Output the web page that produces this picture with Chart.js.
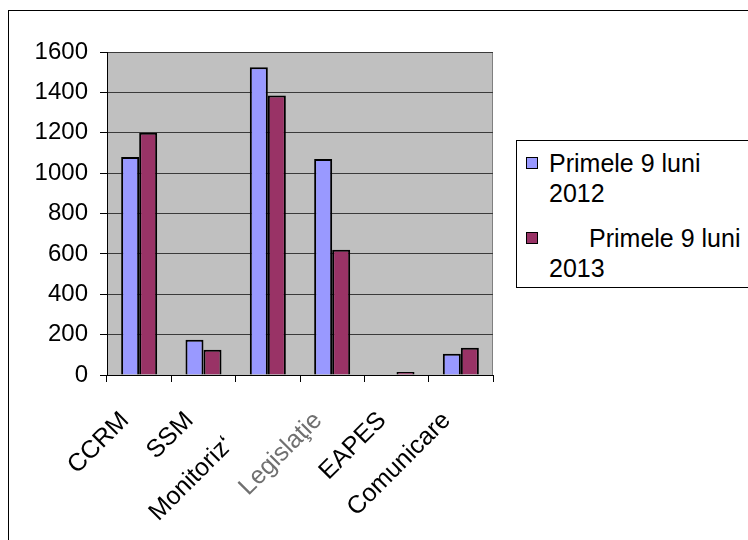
<!DOCTYPE html>
<html>
<head>
<meta charset="utf-8">
<script src="https://cdn.jsdelivr.net/npm/chart.js@4/dist/chart.umd.min.js"></script>
<style>
  html, body { margin:0; padding:0; background:#fff; overflow:hidden; }
  #wrap { position:relative; width:748px; height:540px; }
  #frame { position:absolute; left:8px; top:10px; width:800px; height:600px;
           border-top:1.5px solid #000; border-left:1.5px solid #000; }
  canvas { position:absolute; left:0; top:0; }
  #legend { position:absolute; left:516px; top:140px; width:260px; height:146px;
            border:1px solid #000; background:#fff; font-family:"Liberation Sans", Arial, sans-serif;
            font-size:25px; color:#000; }
  .item { position:absolute; left:32px; width:205px; line-height:30px; }
  .sw { position:absolute; left:9px; width:10px; height:10px; border:1px solid #000; }
</style>
</head>
<body>
<div id="wrap">
  <div id="frame"></div>
  <canvas id="c" width="748" height="540"></canvas>
  <div id="legend"></div>
</div>
<script>
const categories = ["CCRM", "SSM", "Monitoriz\u2018     ", "Legisla\u0163ie", "EAPES", "Comunicare"];
const series2012 = [1080, 175, 1525, 1070, 0, 105];
const series2013 = [1200, 125, 1385, 620, 15, 135];
const seriesLabels = ["Primele 9 luni 2012", "Primele 9 luni 2013"];
const seriesColors = ["#9999FF", "#993366"];
const yMin = 0, yMax = 1600, yStep = 200;

const plotBg = {
  id: 'plotBg',
  beforeDraw(chart) {
    const {ctx, chartArea: a} = chart;
    ctx.save();
    ctx.fillStyle = '#C0C0C0';
    ctx.fillRect(a.left, a.top, a.right - a.left, a.bottom - a.top);
    ctx.strokeStyle = '#808080';
    ctx.lineWidth = 1;
    ctx.beginPath();
    ctx.moveTo(a.left, a.top + 0.5);
    ctx.lineTo(a.right - 0.5, a.top + 0.5);
    ctx.lineTo(a.right - 0.5, a.bottom);
    ctx.stroke();
    ctx.restore();
  }
};

const fontFam = '"Liberation Sans", Arial, sans-serif';

const chart = new Chart(document.getElementById('c'), {
  type: 'bar',
  data: {
    labels: categories,
    datasets: [
      { label: seriesLabels[0], data: series2012, backgroundColor: seriesColors[0],
        borderColor: '#000', borderWidth: 2, barPercentage: 1, categoryPercentage: 0.56 },
      { label: seriesLabels[1], data: series2013, backgroundColor: seriesColors[1],
        borderColor: '#000', borderWidth: 2, barPercentage: 1, categoryPercentage: 0.56 }
    ]
  },
  options: {
    responsive: false,
    animation: false,
    layout: { padding: { left: 0, top: 52, right: 255, bottom: 0 } },
    plugins: { legend: { display: false }, tooltip: { enabled: false } },
    scales: {
      y: {
        min: yMin, max: yMax,
        ticks: { stepSize: yStep, color: '#000', font: { family: fontFam, size: 24 }, padding: 12,
                 callback: (v) => String(v) },
        grid: { color: '#3a3a3a', lineWidth: 1, tickLength: 7, tickColor: '#000' },
        border: { display: true, color: '#000', width: 1 },
        afterFit(s) { s.width = 107; }
      },
      x: {
        grid: { offset: true, drawOnChartArea: false, tickLength: 7, tickColor: '#000' },
        border: { display: true, color: '#000', width: 1 },
        ticks: {
          minRotation: 45, maxRotation: 45, autoSkip: false, font: { family: fontFam, size: 25 },
          color: (c) => c.index === 3 ? '#707070' : '#000',
          labelOffset: -14, padding: 24
        },
        afterFit(s) { s.height = 165; }
      }
    }
  },
  plugins: [plotBg]
});

// legend built from datasets
const leg = document.getElementById('legend');
const tops = [14, 89];
const indents = [0, 40];
chart.data.datasets.forEach((ds, i) => {
  const sw = document.createElement('div');
  sw.className = 'sw';
  sw.style.top = (tops[i] + 2) + 'px';
  sw.style.background = ds.backgroundColor;
  leg.appendChild(sw);
  const it = document.createElement('div');
  it.className = 'item';
  it.style.top = (tops[i] - 7) + 'px';
  it.style.textIndent = indents[i] + 'px';
  it.textContent = ds.label;
  leg.appendChild(it);
});
</script>
</body>
</html>
